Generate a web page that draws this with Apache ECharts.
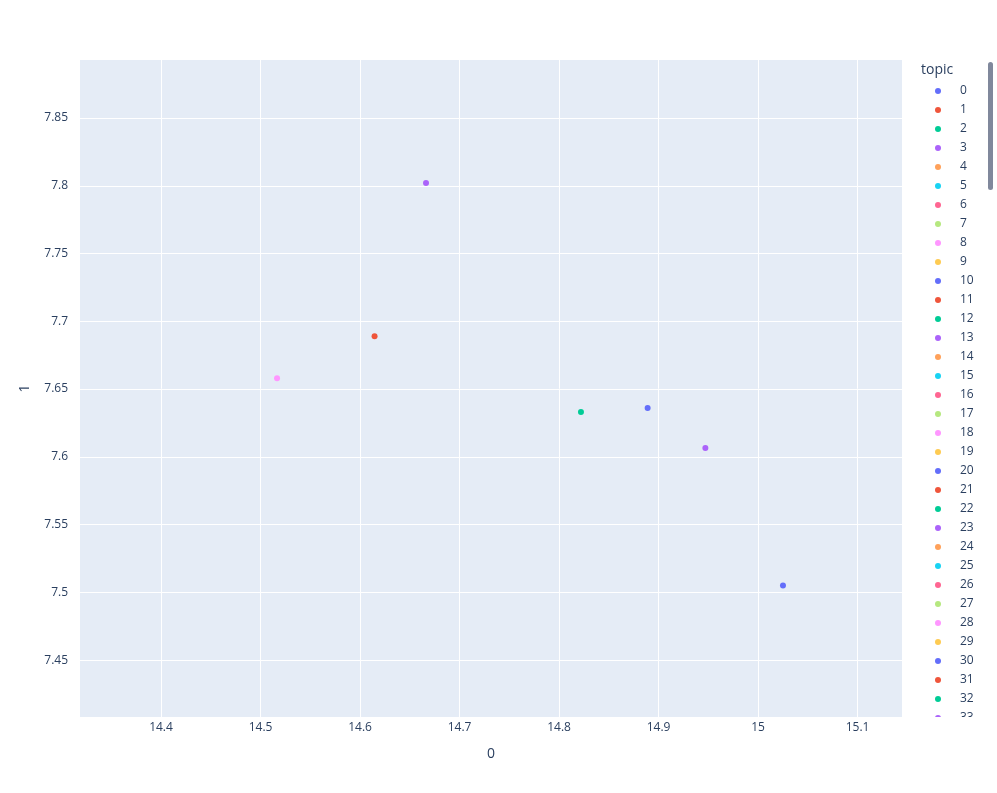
<!DOCTYPE html>
<html>
<head>
<meta charset="utf-8">
<script src="https://cdn.jsdelivr.net/npm/echarts@6/dist/echarts.min.js"></script>
<style>html,body{margin:0;padding:0;background:#fff}#c{width:997px;height:793px}</style>
</head>
<body>
<div id="c"></div>
<script>
// ---- data ----
const topicLabels = [];
for (let i = 0; i < 40; i++) topicLabels.push(String(i));
const pointX = [14.889, 14.6146, 14.822, 14.6663, 14.5166, 14.947, 15.025];
const pointY = [7.636, 7.689, 7.633, 7.802, 7.658, 7.6065, 7.505];
const pointTopic = [0, 1, 2, 3, 8, 13, 10];
const xTicks = [14.4, 14.5, 14.6, 14.7, 14.8, 14.9, 15, 15.1];
const yTicks = [7.45, 7.5, 7.55, 7.6, 7.65, 7.7, 7.75, 7.8, 7.85];
const xRange = [14.3186, 15.1446];
const yRange = [7.408, 7.8928];
const palette = ['#636efa','#EF553B','#00cc96','#ab63fa','#FFA15A','#19d3f3','#FF6692','#B6E880','#FF97FF','#FECB52'];

const FONT = '"Open Sans", verdana, arial, sans-serif';
const series = topicLabels.map((t, i) => {
  const data = [];
  pointTopic.forEach((pt, k) => { if (pt === i) data.push([pointX[k], pointY[k]]); });
  return {
    name: t, type: 'scatter', data: data, symbol: 'circle', symbolSize: 6,
    itemStyle: { color: palette[i % palette.length], opacity: 1 }
  };
});

const chart = echarts.init(document.getElementById('c'), null, { renderer: 'canvas' });
chart.setOption({
  animation: false,
  textStyle: { fontFamily: FONT },
  title: {
    text: 'topic', left: 921, top: 63, padding: 0,
    textStyle: { fontSize: 14, fontWeight: 'normal', color: '#2a3f5f', fontFamily: FONT }
  },
  grid: {
    left: 80, right: 95, top: 60, bottom: 76, show: true,
    backgroundColor: '#E5ECF6', borderWidth: 0
  },
  xAxis: {
    type: 'value', min: xRange[0], max: xRange[1],
    name: '0', nameLocation: 'middle', nameGap: 30,
    nameTextStyle: { fontSize: 14, color: '#2a3f5f', fontFamily: FONT },
    axisLine: { show: false }, axisTick: { show: false, customValues: xTicks },
    axisLabel: { customValues: xTicks, color: '#2a3f5f', fontSize: 12, margin: 5, fontFamily: FONT },
    splitLine: { show: true, lineStyle: { color: '#ffffff', width: 1 } }
  },
  yAxis: {
    type: 'value', min: yRange[0], max: yRange[1],
    name: '1', nameLocation: 'middle', nameGap: 48,
    nameTextStyle: { fontSize: 14, color: '#2a3f5f', fontFamily: FONT },
    axisLine: { show: false }, axisTick: { show: false, customValues: yTicks },
    axisLabel: { customValues: yTicks, color: '#2a3f5f', fontSize: 12, margin: 12, fontFamily: FONT },
    splitLine: { show: true, lineStyle: { color: '#ffffff', width: 1 } }
  },
  legend: {
    type: 'scroll', orient: 'vertical', left: 935, top: 84, height: 700, padding: 0,
    data: topicLabels, icon: 'circle', itemWidth: 6, itemHeight: 6, itemGap: 5,
    textStyle: { fontSize: 12, color: '#2a3f5f', lineHeight: 14, padding: [0, 0, 0, 14], fontFamily: FONT },
    pageIconSize: 0, pageButtonItemGap: 0, pageButtonGap: 0,
    pageTextStyle: { fontSize: 0, color: 'rgba(0,0,0,0)' }, pageFormatter: '',
    pageIconColor: 'rgba(0,0,0,0)', pageIconInactiveColor: 'rgba(0,0,0,0)'
  },
  graphic: [{
    type: 'rect', shape: { x: 988, y: 62, width: 5, height: 128, r: 2.5 },
    style: { fill: '#80889c' }, silent: true
  }, {
    type: 'rect', z: 100, shape: { x: 910, y: 717, width: 76, height: 76 },
    style: { fill: '#ffffff' }, silent: true
  }],
  series: series
});
</script>
</body>
</html>
